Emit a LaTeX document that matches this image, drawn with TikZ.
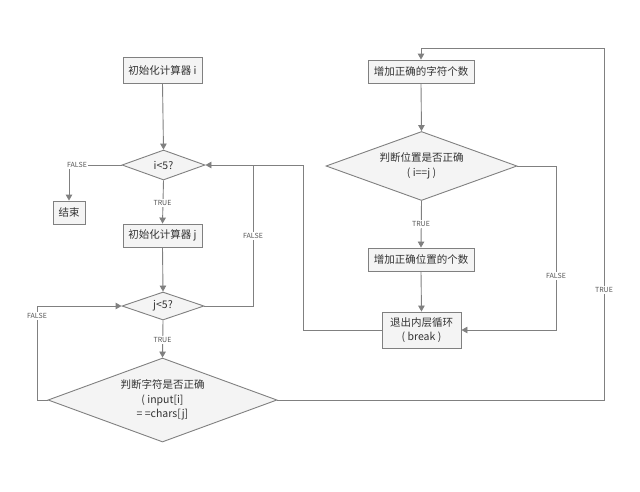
\documentclass[tikz,border=0pt]{standalone}
\usepackage{fontspec}
\setmainfont{Noto Sans CJK SC}
\usetikzlibrary{shapes.geometric,arrows.meta}
\definecolor{ln}{HTML}{808080}
\definecolor{bx}{HTML}{F4F4F4}
\definecolor{tx}{HTML}{333333}
\definecolor{lb}{HTML}{555555}
\begin{document}
\begin{tikzpicture}[x=1pt,y=-1pt,
  box/.style={draw=ln,fill=bx,line width=0.9pt,rectangle,inner sep=0pt,text=tx,font=\fontsize{10.5}{14.5}\selectfont,align=center},
  dia/.style={draw=ln,fill=bx,line width=0.9pt,diamond,inner sep=0pt,text=tx,font=\fontsize{10.5}{14.5}\selectfont,align=center},
  lab/.style={fill=white,inner sep=1.5pt,text=lb,font=\fontsize{7}{8}\selectfont},
  conn/.style={draw=ln,line width=0.9pt},
  arr/.style={conn,-{Triangle[width=6.5pt,length=6pt]}}]
\useasboundingbox[fill=white] (0,0) rectangle (640,491);
% nodes
\node[box,minimum width=79pt,minimum height=26pt] (bi) at (162.5,70) {初始化计算器 i};
\node[dia,minimum width=83pt,minimum height=30pt,aspect=2.77] (d1) at (163.5,165) {i<5?};
\node[box,minimum width=32pt,minimum height=23pt] (end) at (69,212.5) {结束};
\node[box,minimum width=79pt,minimum height=23pt] (bj) at (162.5,235.5) {初始化计算器 j};
\node[dia,minimum width=82pt,minimum height=28pt,aspect=2.9] (d2) at (163,306) {j<5?};
\node[dia,minimum width=229pt,minimum height=84pt,aspect=2.73] (d3) at (162.5,400) {判断字符是否正确\\( input[i]\\= =chars[j]};
\node[box,minimum width=106pt,minimum height=23pt] (b1) at (421,71.5) {增加正确的字符个数};
\node[dia,minimum width=191pt,minimum height=69pt,aspect=2.77] (d4) at (421.5,166) {判断位置是否正确\\( i==j )};
\node[box,minimum width=106pt,minimum height=23pt] (b2) at (421,259.5) {增加正确位置的个数};
\node[box,minimum width=79pt,minimum height=36pt] (b3) at (421.5,330) {退出内层循环\\( break )};
% helper coordinates
\coordinate (c1) at (253,165);
\coordinate (c2) at (303,330);
\coordinate (c3) at (303,165);
\coordinate (c4) at (37,400);
\coordinate (c5) at (37,306);
\coordinate (c6) at (604,400);
\coordinate (c7) at (604,48);
\coordinate (c8) at (421,48);
\coordinate (c9) at (556,166);
\coordinate (c10) at (556,330);
% connectors
\draw[arr] (bi.south) -- (d1.north);
\draw[arr] (d1.west) -| (end.north);
\draw[arr] (d1.south) -- (bj.north);
\draw[arr] (bj.south) -- (d2.north);
\draw[conn] (d2.east) -| (c1);
\draw[arr] (b3.west) -- (c2) -- (c3) -- (d1.east);
\draw[arr] (d2.south) -- (d3.north);
\draw[arr] (d3.west) -- (c4) -- (c5) -- (d2.west);
\draw[arr] (d3.east) -- (c6) -- (c7) -- (c8) -- (b1.north);
\draw[arr] (b1.south) -- (d4.north);
\draw[arr] (d4.south) -- (b2.north);
\draw[arr] (b2.south) -- (b3.north);
\draw[arr] (d4.east) -- (c9) -- (c10) -- (b3.east);
% labels
\node[lab] (l1) at (77,165) {FALSE};
\node[lab] (l2) at (162.5,203) {TRUE};
\node[lab] (l3) at (253,236) {FALSE};
\node[lab] (l4) at (162.5,340) {TRUE};
\node[lab] (l5) at (37,316) {FALSE};
\node[lab] (l6) at (604,290) {TRUE};
\node[lab] (l7) at (421,224) {TRUE};
\node[lab] (l8) at (556,276) {FALSE};
\end{tikzpicture}
\end{document}
